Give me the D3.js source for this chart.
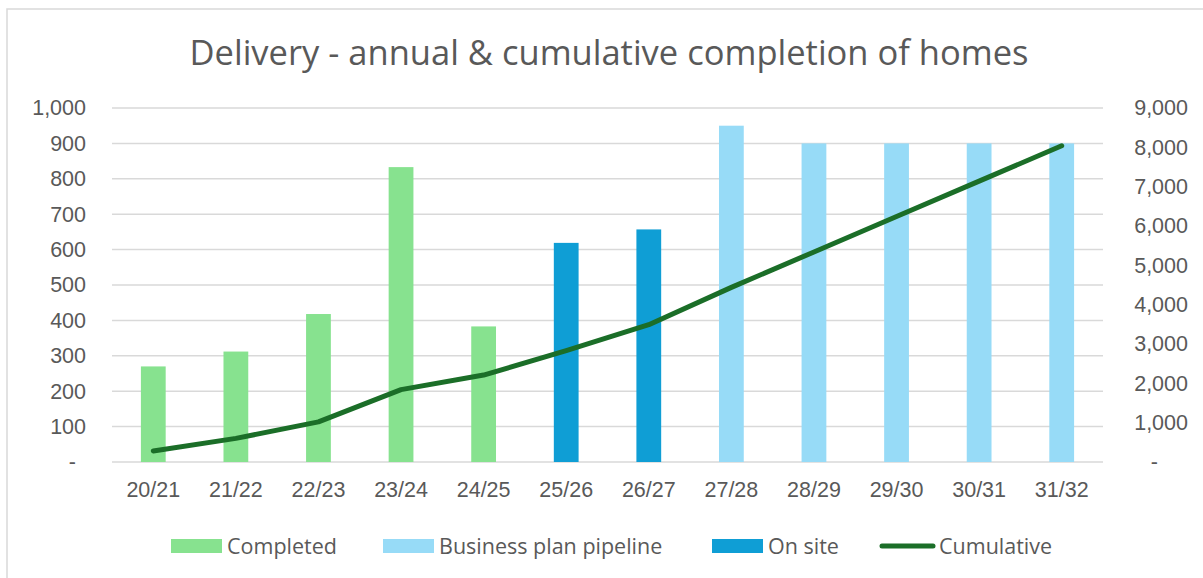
<!DOCTYPE html>
<html>
<head>
<meta charset="utf-8">
<script src="https://cdn.jsdelivr.net/npm/d3@7"></script>
<style>
  body { margin: 0; background: #fff; }
  svg { font-family: "Open Sans", sans-serif; }
</style>
</head>
<body>
<div id="chart"></div>
<script>
const years = ["20/21", "21/22", "22/23", "23/24", "24/25", "25/26", "26/27", "27/28", "28/29", "29/30", "30/31", "31/32"];
const status = ["Completed", "Completed", "Completed", "Completed", "Completed", "On site", "On site",
  "Business plan pipeline", "Business plan pipeline", "Business plan pipeline", "Business plan pipeline", "Business plan pipeline"];
const annual = [270, 312, 418, 833, 383, 619, 657, 950, 900, 900, 900, 900];
const cumulative = [280, 600, 1020, 1840, 2210, 2830, 3490, 4440, 5340, 6240, 7140, 8040];
const leftTicks = [0, 100, 200, 300, 400, 500, 600, 700, 800, 900, 1000];
const rightTicks = [0, 1000, 2000, 3000, 4000, 5000, 6000, 7000, 8000, 9000];
const legendItems = ["Completed", "Business plan pipeline", "On site", "Cumulative"];

const width = 1203, height = 578;
const colors = {
  "Completed": "#87E28F",
  "Business plan pipeline": "#97DBF7",
  "On site": "#0F9ED5",
  "Cumulative": "#1B6E28"
};
const textColor = "#595959";
const gridColor = "#D9D9D9";

const svg = d3.select("#chart").append("svg")
  .attr("width", width)
  .attr("height", height);

// chart frame
svg.append("rect")
  .attr("x", 7).attr("y", 9)
  .attr("width", width + 10).attr("height", height + 10)
  .attr("fill", "#fff")
  .attr("stroke", gridColor)
  .attr("stroke-width", 1.5);

svg.append("text")
  .attr("x", 609)
  .attr("y", 65)
  .attr("text-anchor", "middle")
  .attr("fill", textColor)
  .style("font-size", "34.5px")
  .text("Delivery - annual & cumulative completion of homes");

const plot = { left: 112, right: 1103, top: 108, bottom: 462 };

const x = d3.scaleBand().domain(years).range([plot.left, plot.right]).padding(0);
const yLeft = d3.scaleLinear().domain([0, 1000]).range([plot.bottom, plot.top]);
const yRight = d3.scaleLinear().domain([0, 9000]).range([plot.bottom, plot.top]);

const fmt = d => d === 0 ? "-" : d3.format(",")(d);

// gridlines
svg.append("g")
  .selectAll("line")
  .data(leftTicks)
  .join("line")
  .attr("x1", plot.left).attr("x2", plot.right)
  .attr("y1", d => yLeft(d)).attr("y2", d => yLeft(d))
  .attr("stroke", gridColor)
  .attr("stroke-width", 1.5);

// left axis
const leftAxis = svg.append("g")
  .attr("transform", "translate(" + plot.left + ",0)")
  .call(d3.axisLeft(yLeft).tickValues(leftTicks).tickFormat(fmt).tickSize(0).tickPadding(26));
leftAxis.select(".domain").remove();
leftAxis.selectAll("text")
  .attr("fill", textColor)
  .style("font-size", "21.5px")
  .attr("dx", d => d === 0 ? -10 : 0);

// right axis
const rightAxis = svg.append("g")
  .attr("transform", "translate(" + plot.right + ",0)")
  .call(d3.axisRight(yRight).tickValues(rightTicks).tickFormat(fmt).tickSize(0).tickPadding(85));
rightAxis.select(".domain").remove();
rightAxis.selectAll("text")
  .attr("fill", textColor)
  .attr("text-anchor", "end")
  .style("font-size", "21.5px")
  .attr("dx", d => d === 0 ? -30 : 0);

// bottom axis labels
const bottomAxis = svg.append("g")
  .attr("transform", "translate(0," + plot.bottom + ")")
  .call(d3.axisBottom(x).tickSize(0).tickPadding(20));
bottomAxis.select(".domain").remove();
bottomAxis.selectAll("text")
  .attr("fill", textColor)
  .style("font-size", "21.5px");

// bars
const barW = x.bandwidth() * 0.3;
svg.append("g")
  .selectAll("rect")
  .data(years)
  .join("rect")
  .attr("x", d => x(d) + (x.bandwidth() - barW) / 2)
  .attr("width", barW)
  .attr("y", (d, i) => yLeft(annual[i]))
  .attr("height", (d, i) => plot.bottom - yLeft(annual[i]))
  .attr("fill", (d, i) => colors[status[i]]);

// cumulative line
const line = d3.line()
  .x((d, i) => x(years[i]) + x.bandwidth() / 2)
  .y(d => yRight(d));
svg.append("path")
  .datum(cumulative)
  .attr("d", line)
  .attr("fill", "none")
  .attr("stroke", colors["Cumulative"])
  .attr("stroke-width", 5)
  .attr("stroke-linecap", "round")
  .attr("stroke-linejoin", "round");

// legend
const legendX = [171, 383, 712, 880];
const legend = svg.append("g");
legendItems.forEach((name, i) => {
  const g = legend.append("g").attr("transform", "translate(" + legendX[i] + ",546)");
  if (name === "Cumulative") {
    g.append("line")
      .attr("x1", 2).attr("x2", 53)
      .attr("stroke", colors[name])
      .attr("stroke-width", 5)
      .attr("stroke-linecap", "round");
  } else {
    g.append("rect")
      .attr("x", 0).attr("y", -7)
      .attr("width", 51).attr("height", 14)
      .attr("fill", colors[name]);
  }
  g.append("text")
    .attr("x", name === "Cumulative" ? 59 : 56)
    .attr("y", 8)
    .attr("fill", textColor)
    .style("font-size", "21.5px")
    .text(name);
});
</script>
</body>
</html>
